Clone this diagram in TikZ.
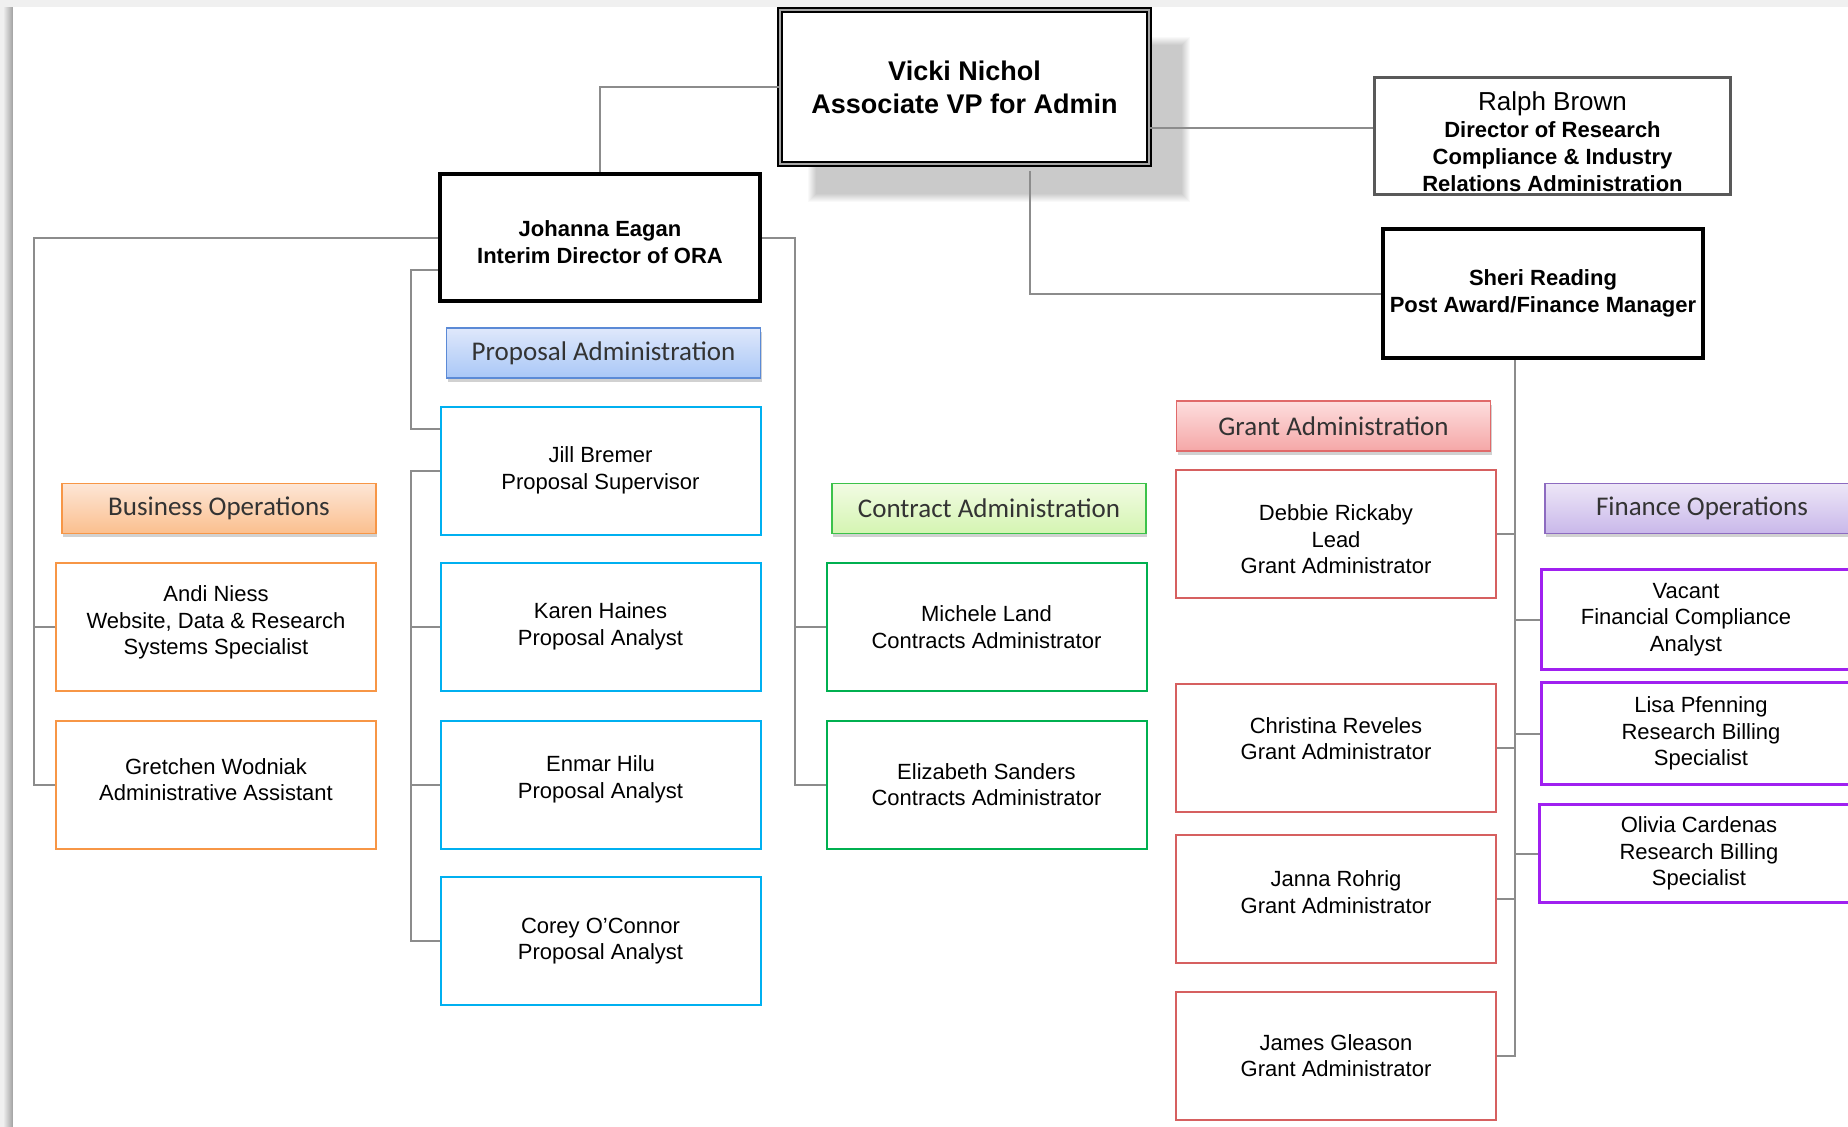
\documentclass[tikz,border=0pt]{standalone}
\usepackage{fontspec}
\setmainfont{Liberation Sans}
\newfontfamily\calibri{Carlito}
\usepackage{tikz}
\usetikzlibrary{calc,shadows}

\definecolor{pagegray}{RGB}{240,240,240}
\definecolor{linkgray}{RGB}{140,140,140}
\definecolor{propblue}{RGB}{0,176,240}
\definecolor{conggreen}{RGB}{0,176,80}
\definecolor{grantred}{RGB}{214,96,96}
\definecolor{finpurple}{RGB}{160,32,240}
\definecolor{busorange}{RGB}{247,150,70}
% header borders and fills
\definecolor{headblue}{RGB}{91,138,214}
\definecolor{bluetop}{RGB}{223,232,251}
\definecolor{bluebot}{RGB}{169,199,247}
\definecolor{orangetop}{RGB}{253,230,214}
\definecolor{orangebot}{RGB}{251,191,142}
\definecolor{headgreen}{RGB}{60,194,74}
\definecolor{greentop}{RGB}{242,251,227}
\definecolor{greenbot}{RGB}{212,245,178}
\definecolor{headred}{RGB}{224,106,106}
\definecolor{redtop}{RGB}{253,222,222}
\definecolor{redbot}{RGB}{245,167,167}
\definecolor{headviolet}{RGB}{141,107,192}
\definecolor{violettop}{RGB}{237,230,247}
\definecolor{violetbot}{RGB}{201,184,234}

% struts that push a node text down (top) or up (bot)
\newcommand{\padtop}[1]{\rule{0pt}{#1}}
\newcommand{\padbot}[1]{\rule[-#1]{0pt}{#1}}

\begin{document}
\begin{tikzpicture}[x=1pt,y=-1pt,
  link/.style={draw=linkgray,line width=2pt},
  boss/.style={draw=black,line width=4pt,fill=white,align=center,inner sep=0pt,
    font=\fontsize{22}{27}\selectfont\bfseries},
  staff/.style={draw=#1,line width=2pt,fill=white,align=center,inner sep=0pt,
    minimum width=320pt,minimum height=128pt,font=\fontsize{22}{26.5}\selectfont},
  head/.style n args={3}{draw=#1,top color=#2,bottom color=#3,line width=1.5pt,
    minimum width=314pt,minimum height=50pt,inner sep=0pt,text=black!80,
    font=\calibri\fontsize{27}{32}\selectfont,
    drop shadow={shadow xshift=1pt,shadow yshift=-3.5pt,fill=black,opacity=0.18}}]
  % page
  \useasboundingbox (0,0) rectangle (1848,1127);
  \fill[pagegray] (0,0) rectangle (1848,1127);
  \shade[left color=pagegray,right color=gray!75] (3,7) rectangle (13,1127);
  \fill[white] (13,7) rectangle (1848,1127);

  % soft shadow of the top box
  \foreach \d in {0,...,8}
    \fill[black,opacity=0.024] (816-\d,45-\d) rectangle (1182+\d,194+\d);

  % top level
  \node(vicki)[draw=black,double=gray!70,double distance=2.5pt,line width=1.5pt,fill=white,
    minimum width=369pt,minimum height=154pt,align=center,inner sep=0pt,
    font=\fontsize{27}{33}\selectfont\bfseries] at (964.5,87) {Vicki Nichol\\Associate VP for Admin};
  \node(ralph)[draw=black!65,line width=3pt,fill=white,minimum width=356pt,minimum height=117pt,
    align=center,inner sep=0pt,font=\fontsize{22}{27}\selectfont\bfseries] at (1552.5,136)
    {{\fontsize{26}{30}\selectfont\mdseries\padtop{31pt}Ralph Brown}\\Director of Research\\Compliance \& Industry\\Relations Administration};
  \node(johanna)[boss,minimum width=320pt,minimum height=127pt] at (600,237.5) {\padtop{26pt}Johanna Eagan\\Interim Director of ORA};
  \node(sheri)[boss,minimum width=320pt,minimum height=129pt] at (1543,293.5) {Sheri Reading\\Post Award/Finance Manager};

  % section headers
  \node(propHead)[head={headblue}{bluetop}{bluebot}] at (603.5,353) {Proposal Administration};
  \node(busHead)[head={busorange}{orangetop}{orangebot}] at (219,508.5) {Business Operations};
  \node(conHead)[head={headgreen}{greentop}{greenbot}] at (989,508.5) {Contract Administration};
  \node(grantHead)[head={headred}{redtop}{redbot}] at (1333.5,426) {Grant Administration};
  \node(finHead)[head={headviolet}{violettop}{violetbot}] at (1702,508.5) {Finance Operations};

  % business operations
  \node(andi)[staff=busorange] at (216,626.5) {Andi Niess\\Website, Data \& Research\\Systems Specialist\padbot{12pt}};
  \node(gretchen)[staff=busorange] at (216,784.5) {Gretchen Wodniak\\Administrative Assistant\padbot{10pt}};

  % proposal administration
  \node(jill)[staff=propblue] at (600.5,470.5) {Jill Bremer\\Proposal Supervisor};
  \node(karen)[staff=propblue] at (600.5,626.5) {Karen Haines\\Proposal Analyst};
  \node(enmar)[staff=propblue] at (600.5,784.5) {Enmar Hilu\\Proposal Analyst\padbot{15pt}};
  \node(corey)[staff=propblue] at (600.5,941) {Corey O'Connor\\Proposal Analyst};

  % contract administration
  \node(michele)[staff=conggreen] at (986.5,627) {Michele Land\\Contracts Administrator};
  \node(elizabeth)[staff=conggreen] at (986.5,784.5) {Elizabeth Sanders\\Contracts Administrator};

  % grant administration
  \node(debbie)[staff=grantred] at (1336,533.5) {\padtop{28pt}Debbie Rickaby\\Lead\\Grant Administrator};
  \node(christina)[staff=grantred] at (1336,747.5) {Christina Reveles\\Grant Administrator\padbot{18pt}};
  \node(janna)[staff=grantred] at (1336,899) {Janna Rohrig\\Grant Administrator\padbot{14pt}};
  \node(james)[staff=grantred] at (1336,1055.5) {James Gleason\\Grant Administrator};

  % finance operations
  \node(vacant)[staff=finpurple,line width=3pt,minimum height=100pt] at (1701,619.5)
    {Vacant\rule{30pt}{0pt}\\Financial Compliance\rule{30pt}{0pt}\\Analyst\rule{30pt}{0pt}};
  \node(lisa)[staff=finpurple,line width=3pt,minimum height=102pt] at (1701,733.5) {Lisa Pfenning\\Research Billing\\Specialist};
  \node(olivia)[staff=finpurple,line width=3pt,minimum height=98pt] at (1699,853.5) {Olivia Cardenas\\Research Billing\\Specialist};

  % connectors
  \coordinate (busbar) at (34,0);
  \coordinate (propbar) at (411,0);
  \coordinate (conbar) at (795,0);
  \coordinate (finbar) at ([xshift=-28pt]sheri.south);

  \draw[link] (vicki.west) -| (johanna.north);
  \draw[link] ([yshift=8pt]ralph.west) -- ([yshift=8pt]ralph.west -| vicki.east);
  \draw[link] ([xshift=65.5pt,yshift=-6pt]vicki.south) |- (sheri.west);

  \draw[link] (johanna.west) -| (busbar |- gretchen.west) -- (gretchen.west);
  \draw[link] (andi.west) -- (andi.west -| busbar);

  \draw[link] ([yshift=-32pt]johanna.west) -| ([yshift=42pt]jill.west -| propbar) -- ([yshift=42pt]jill.west);
  \draw[link] (jill.west) -| (propbar |- corey.west) -- (corey.west);
  \foreach \n in {karen,enmar}
    \draw[link] (\n.west) -- (\n.west -| propbar);

  \draw[link] (johanna.east) -| (conbar |- elizabeth.west) -- (elizabeth.west);
  \draw[link] (michele.west) -- (michele.west -| conbar);

  \draw[link] (finbar) -- (finbar |- james.east) -- (james.east);
  \foreach \n in {debbie,christina,janna}
    \draw[link] (\n.east) -- (\n.east -| finbar);
  \foreach \n in {vacant,lisa,olivia}
    \draw[link] (\n.west) -- (\n.west -| finbar);
\end{tikzpicture}
\end{document}
